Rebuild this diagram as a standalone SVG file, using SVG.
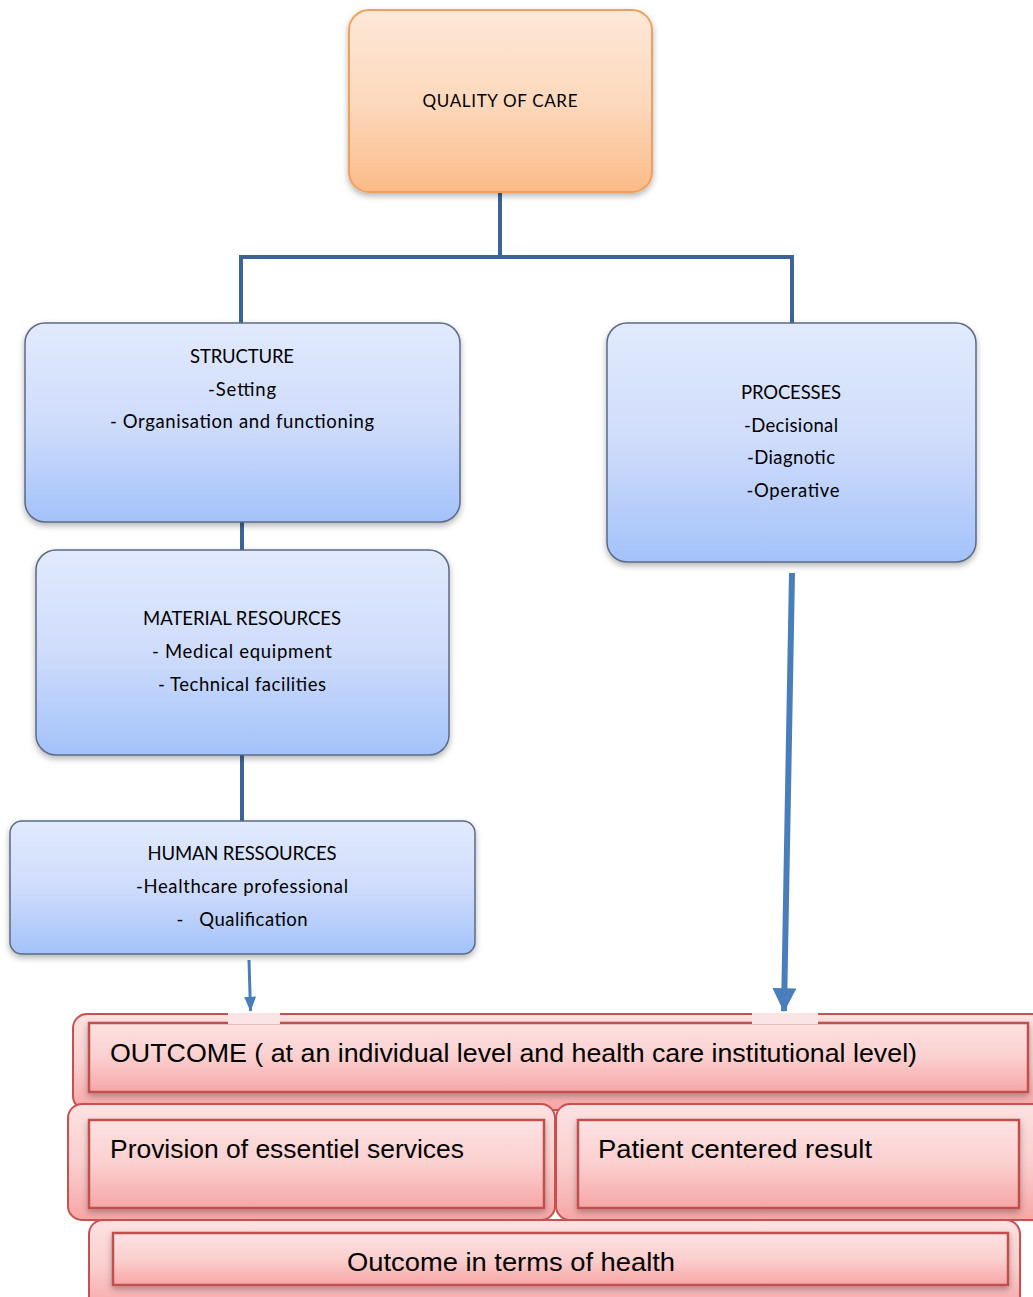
<svg xmlns="http://www.w3.org/2000/svg" width="1033" height="1297" viewBox="0 0 1033 1297">
<defs>
<linearGradient id="gOrange" x1="0" y1="0" x2="0" y2="1">
<stop offset="0" stop-color="#fde8d8"/><stop offset="0.5" stop-color="#fdd9bd"/><stop offset="1" stop-color="#fbbb88"/>
</linearGradient>
<linearGradient id="gBlue" x1="0" y1="0" x2="0" y2="1">
<stop offset="0" stop-color="#e1eafd"/><stop offset="0.5" stop-color="#cfdcfb"/><stop offset="1" stop-color="#a3c2fa"/>
</linearGradient>
<linearGradient id="gPink" x1="0" y1="0" x2="0" y2="1">
<stop offset="0" stop-color="#fde2e2"/><stop offset="0.5" stop-color="#fbcfcf"/><stop offset="1" stop-color="#f7a6a6"/>
</linearGradient>
<filter id="sh" x="-10%" y="-10%" width="120%" height="130%">
<feDropShadow dx="0" dy="3" stdDeviation="3" flood-color="#000" flood-opacity="0.3"/>
</filter>
<marker id="ahBig" markerWidth="4" markerHeight="4" refX="3.8" refY="2" orient="auto" markerUnits="strokeWidth">
<path d="M0,0 L4,2 L0,4 Z" fill="#4a7ebb"/>
</marker>
<marker id="ahSmall" markerWidth="5" markerHeight="4" refX="4.8" refY="2" orient="auto" markerUnits="strokeWidth">
<path d="M0,0 L5,2 L0,4 Z" fill="#4a7ebb"/>
</marker>
</defs>
<style>
.orange{fill:url(#gOrange);stroke:#f0a05c;stroke-width:2}
.blue{fill:url(#gBlue);stroke:#5b6b84;stroke-width:1.5}
.pinkO{fill:url(#gPink);stroke:#c9504f;stroke-width:2}
.pinkI{fill:url(#gPink);stroke:#c0504d;stroke-width:2.5}
.t{font-family:Lato,"Open Sans","Liberation Sans",sans-serif;font-size:18.5px;fill:#000;text-anchor:middle}
.tq{font-size:17px}
.tb{font-family:"Liberation Sans",Arial,sans-serif;font-size:26px;fill:#000}
.conn{stroke:#3b6598;stroke-width:4;fill:none}
</style>
<rect width="1033" height="1297" fill="#fff"/>

<g id="connectors">
<path class="conn" d="M500,192 V257 M241,257 H793 M241,255 V323 M792,255 V323"/>
<path class="conn" d="M242,520 V552"/>
<path class="conn" d="M242,753 V823"/>
<line x1="792" y1="573" x2="784" y2="1011" stroke="#4a7ebb" stroke-width="6" marker-end="url(#ahBig)"/>
<line x1="249" y1="960" x2="250.5" y2="1011" stroke="#4a7ebb" stroke-width="3" marker-end="url(#ahSmall)"/>
</g>

<g id="quality">
<rect class="orange" x="349" y="10" width="303" height="182" rx="20" filter="url(#sh)"/>
<text class="t tq" x="500" y="107" textLength="155">QUALITY OF CARE</text>
</g>

<g id="structure">
<rect class="blue" x="25" y="323" width="435" height="199" rx="20" filter="url(#sh)"/>
<text class="t" x="242" y="363" textLength="104">STRUCTURE</text>
<text class="t" x="242" y="396" textLength="68">-Setting</text>
<text class="t" x="242" y="428" textLength="264">- Organisation and functioning</text>
</g>

<g id="processes">
<rect class="blue" x="607" y="323" width="369" height="239" rx="20" filter="url(#sh)"/>
<text class="t" x="791" y="399" textLength="100">PROCESSES</text>
<text class="t" x="791" y="432" textLength="94">-Decisional</text>
<text class="t" x="791" y="464" textLength="88">-Diagnotic</text>
<text class="t" x="793" y="497" textLength="93">-Operative</text>
</g>

<g id="material">
<rect class="blue" x="36" y="550" width="413" height="205" rx="20" filter="url(#sh)"/>
<text class="t" x="242" y="625" textLength="198">MATERIAL RESOURCES</text>
<text class="t" x="242" y="658" textLength="180">- Medical equipment</text>
<text class="t" x="242" y="691" textLength="168">- Technical facilities</text>
</g>

<g id="human">
<rect class="blue" x="10" y="821" width="465" height="133" rx="12" filter="url(#sh)"/>
<text class="t" x="242" y="860" textLength="189">HUMAN RESSOURCES</text>
<text class="t" x="242" y="893" textLength="212">-Healthcare professional</text>
<text class="t" x="242" y="926" textLength="131" xml:space="preserve">-   Qualification</text>
</g>

<g id="outcome">
<rect class="pinkO" x="73" y="1014" width="975" height="96" rx="14"/>
<rect class="pinkI" x="89" y="1023" width="939" height="69" filter="url(#sh)"/>
<rect x="228" y="1013" width="52" height="11" fill="#fbe4e4"/>
<rect x="752" y="1013" width="66" height="11" fill="#fbe4e4"/>
<text class="tb" x="110" y="1062" textLength="807" lengthAdjust="spacingAndGlyphs">OUTCOME ( at an individual level and health care institutional level)</text>
</g>

<g id="provision">
<rect class="pinkO" x="68" y="1104" width="487" height="116" rx="14"/>
<rect class="pinkI" x="89" y="1120" width="455" height="88" filter="url(#sh)"/>
<text class="tb" x="110" y="1158" textLength="354" lengthAdjust="spacingAndGlyphs">Provision of essentiel services</text>
</g>

<g id="patient">
<rect class="pinkO" x="556" y="1104" width="490" height="116" rx="14"/>
<rect class="pinkI" x="578" y="1120" width="441" height="88" filter="url(#sh)"/>
<text class="tb" x="598" y="1158" textLength="274" lengthAdjust="spacingAndGlyphs">Patient centered result</text>
</g>

<g id="health">
<rect class="pinkO" x="89" y="1220" width="931" height="90" rx="14"/>
<rect class="pinkI" x="113" y="1233" width="895" height="52" filter="url(#sh)"/>
<text class="tb" x="347" y="1271" textLength="328" lengthAdjust="spacingAndGlyphs">Outcome in terms of health</text>
</g>
</svg>
